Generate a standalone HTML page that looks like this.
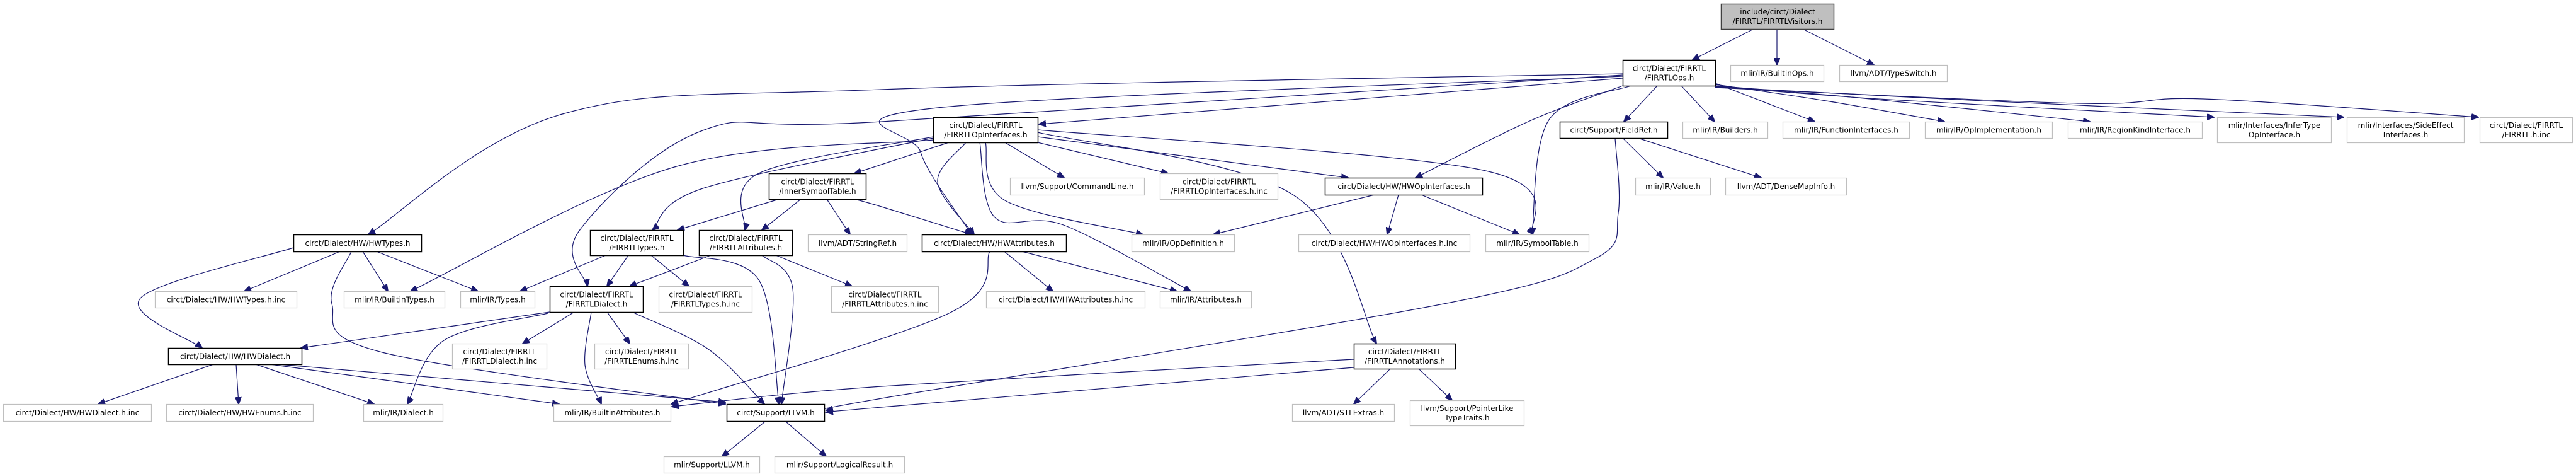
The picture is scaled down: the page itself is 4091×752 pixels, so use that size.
<!DOCTYPE html>
<html><head><meta charset="utf-8"><style>
html,body{margin:0;padding:0;background:#fff;}
svg{display:block;}
text{font-family:"DejaVu Sans","Liberation Sans",sans-serif;font-size:12px;fill:#000;}
</style></head><body>
<svg id="g" xmlns="http://www.w3.org/2000/svg" width="4091" height="752" viewBox="0 0 4091 752">
<defs><marker id="ah" markerWidth="12" markerHeight="10" refX="11" refY="5" orient="auto" markerUnits="userSpaceOnUse"><path d="M0,0 L12,5 L0,10 Z" fill="#191970" stroke="#191970"/></marker></defs>
<g id="edges"></g><g id="nodes"></g>
</svg>
<script>
const nodes=[
["root",2733,6,179,40,["include/circt/Dialect","/FIRRTL/FIRRTLVisitors.h"],"root"],
["ops",2577,95,147,41,["circt/Dialect/FIRRTL","/FIRRTLOps.h"],"b"],
["builtinops",2748,103,148,26,["mlir/IR/BuiltinOps.h"],"g"],
["typeswitch",2921,103,171,26,["llvm/ADT/TypeSwitch.h"],"g"],
["opif",1482,186,166,40,["circt/Dialect/FIRRTL","/FIRRTLOpInterfaces.h"],"b"],
["fieldref",2477,193,171,26,["circt/Support/FieldRef.h"],"b"],
["builders",2672,193,135,26,["mlir/IR/Builders.h"],"g"],
["funcif",2831,193,201,26,["mlir/IR/FunctionInterfaces.h"],"g"],
["opimpl",3057,193,202,26,["mlir/IR/OpImplementation.h"],"g"],
["regionkind",3284,193,213,26,["mlir/IR/RegionKindInterface.h"],"g"],
["infertype",3521,186,181,40,["mlir/Interfaces/InferType","OpInterface.h"],"g"],
["sideeffect",3727,186,186,40,["mlir/Interfaces/SideEffect","Interfaces.h"],"g"],
["firrtlinc",3938,186,147,40,["circt/Dialect/FIRRTL","/FIRRTL.h.inc"],"g"],
["innersym",1221,275,154,41,["circt/Dialect/FIRRTL","/InnerSymbolTable.h"],"b"],
["cmdline",1604,282,213,27,["llvm/Support/CommandLine.h"],"g"],
["opifinc",1842,275,187,41,["circt/Dialect/FIRRTL","/FIRRTLOpInterfaces.h.inc"],"g"],
["hwopif",2104,282,250,27,["circt/Dialect/HW/HWOpInterfaces.h"],"b"],
["value",2597,282,119,27,["mlir/IR/Value.h"],"g"],
["densemap",2740,282,192,27,["llvm/ADT/DenseMapInfo.h"],"g"],
["hwtypes",466,372,203,27,["circt/Dialect/HW/HWTypes.h"],"b"],
["firtypes",937,365,148,40,["circt/Dialect/FIRRTL","/FIRRTLTypes.h"],"b"],
["firattrs",1110,365,148,40,["circt/Dialect/FIRRTL","/FIRRTLAttributes.h"],"b"],
["stringref",1283,372,157,27,["llvm/ADT/StringRef.h"],"g"],
["hwattrs",1464,372,229,27,["circt/Dialect/HW/HWAttributes.h"],"b"],
["opdef",1797,372,163,27,["mlir/IR/OpDefinition.h"],"g"],
["hwopifinc",2062,372,272,27,["circt/Dialect/HW/HWOpInterfaces.h.inc"],"g"],
["symtab",2359,372,164,27,["mlir/IR/SymbolTable.h"],"g"],
["hwtypesinc",246,462,225,26,["circt/Dialect/HW/HWTypes.h.inc"],"g"],
["builtintypes",546,462,160,26,["mlir/IR/BuiltinTypes.h"],"g"],
["types",731,462,118,26,["mlir/IR/Types.h"],"g"],
["firdialect",873,454,148,41,["circt/Dialect/FIRRTL","/FIRRTLDialect.h"],"b"],
["firtypesinc",1046,454,148,41,["circt/Dialect/FIRRTL","/FIRRTLTypes.h.inc"],"g"],
["firattrsinc",1320,454,170,41,["circt/Dialect/FIRRTL","/FIRRTLAttributes.h.inc"],"g"],
["hwattrsinc",1566,462,252,26,["circt/Dialect/HW/HWAttributes.h.inc"],"g"],
["attrs",1842,462,145,26,["mlir/IR/Attributes.h"],"g"],
["hwdialect",267,552,212,26,["circt/Dialect/HW/HWDialect.h"],"b"],
["firdialectinc",718,545,150,40,["circt/Dialect/FIRRTL","/FIRRTLDialect.h.inc"],"g"],
["firenumsinc",944,545,149,40,["circt/Dialect/FIRRTL","/FIRRTLEnums.h.inc"],"g"],
["annot",2150,545,161,40,["circt/Dialect/FIRRTL","/FIRRTLAnnotations.h"],"b"],
["hwdialectinc",5,641,235,27,["circt/Dialect/HW/HWDialect.h.inc"],"g"],
["hwenumsinc",264,641,233,27,["circt/Dialect/HW/HWEnums.h.inc"],"g"],
["dialect",577,641,126,27,["mlir/IR/Dialect.h"],"g"],
["builtinattrs",879,641,186,27,["mlir/IR/BuiltinAttributes.h"],"g"],
["llvm",1154,641,155,27,["circt/Support/LLVM.h"],"b"],
["stlextras",2052,641,162,27,["llvm/ADT/STLExtras.h"],"g"],
["ptrlike",2239,635,181,40,["llvm/Support/PointerLike","TypeTraits.h"],"g"],
["mlirllvm",1054,724,152,26,["mlir/Support/LLVM.h"],"g"],
["logres",1230,724,206,26,["mlir/Support/LogicalResult.h"],"g"]
];
const edges=[
["root","ops",[2785,46,2688,95]],
["root","builtinops",[2822,46,2822,103]],
["root","typeswitch",[2863,46,2976,103]],
["ops","fieldref",[2632,136,2579,193]],
["ops","builders",[2670,136,2723,193]],
["ops","funcif",[2724,132,2882,193]],
["ops","opimpl",[2724,134,2900,160,3088,193]],
["ops","regionkind",[2724,136,2950,155,3319,193]],
["ops","infertype",[2724,137,3000,158,3516,186]],
["ops","sideeffect",[2724,138,3150,160,3722,186]],
["ops","firrtlinc",[2724,139,3300,164,3500,157,3936,186]],
["ops","hwopif",[2577,136,2427,193,2248,282]],
["ops","symtab",[2590,136,2460,190,2433,372]],
["ops","opif",[2577,124,1650,197]],
["ops","hwtypes",[2577,117,1400,142,893,181,585,372]],
["ops","firdialect",[2577,119,1400,193,1116,207,920,366,933,454]],
["ops","hwattrs",[2577,121,1489,171,1462,241,1543,372]],
["opif","cmdline",[1596,226,1690,282]],
["opif","opifinc",[1648,226,1855,275]],
["opif","hwopif",[1648,217,2141,282]],
["opif","symtab",[1648,206,2355,270,2435,372]],
["opif","annot",[1648,210,2052,308,2186,545]],
["opif","opdef",[1565,226,1596,318,1815,372]],
["opif","attrs",[1556,226,1580,345,1689,357,1891,462]],
["opif","hwattrs",[1534,226,1489,289,1547,372]],
["opif","innersym",[1507,226,1357,275]],
["opif","builtintypes",[1482,222,1071,265,652,462]],
["opif","firtypes",[1482,219,1116,299,1036,365]],
["opif","firattrs",[1482,217,1205,275,1183,365]],
["innersym","firtypes",[1237,316,1076,365]],
["innersym","firattrs",[1272,316,1210,365]],
["innersym","stringref",[1313,316,1350,372]],
["innersym","hwattrs",[1357,316,1400,328,1543,372]],
["hwtypes","hwdialect",[466,393,223,473,321,552]],
["hwtypes","hwtypesinc",[540,399,388,462]],
["hwtypes","builtintypes",[576,399,616,462]],
["hwtypes","types",[598,399,759,462]],
["hwtypes","llvm",[558,399,527,482,607,559,1152,641]],
["firtypes","types",[962,405,826,462]],
["firtypes","firdialect",[998,405,964,454]],
["firtypes","firtypesinc",[1034,405,1094,454]],
["firtypes","llvm",[1085,405,1205,444,1237,641]],
["firattrs","firdialect",[1129,405,1000,454]],
["firattrs","llvm",[1210,405,1259,458,1241,641]],
["firattrs","firattrsinc",[1232,405,1353,454]],
["firdialect","hwdialect",[873,495,478,552]],
["firdialect","dialect",[870,497,705,540,647,641]],
["firdialect","firdialectinc",[912,495,830,545]],
["firdialect","firenumsinc",[964,495,1000,545]],
["firdialect","builtinattrs",[939,495,929,579,955,641]],
["firdialect","llvm",[1004,495,1125,554,1214,641]],
["hwdialect","hwdialectinc",[339,578,156,641]],
["hwdialect","hwenumsinc",[375,578,379,641]],
["hwdialect","dialect",[406,578,594,641]],
["hwdialect","builtinattrs",[429,578,888,641]],
["hwdialect","llvm",[442,578,1152,638]],
["llvm","mlirllvm",[1216,668,1147,724]],
["llvm","logres",[1247,668,1312,724]],
["hwattrs","hwattrsinc",[1595,399,1672,462]],
["hwattrs","attrs",[1623,399,1869,462]],
["hwattrs","builtinattrs",[1572,399,1507,497,1066,641]],
["hwopif","opdef",[2183,309,1927,372]],
["hwopif","hwopifinc",[2221,309,2203,372]],
["hwopif","symtab",[2257,309,2413,372]],
["fieldref","value",[2577,219,2641,282]],
["fieldref","densemap",[2601,219,2797,282]],
["fieldref","llvm",[2565,219,2570,338,2534,410,2293,482,1400,632,1312,651]],
["annot","builtinattrs",[2150,570,1400,613,1067,645]],
["annot","llvm",[2150,583,1400,646,1312,654]],
["annot","stlextras",[2208,585,2150,641]],
["annot","ptrlike",[2253,585,2306,635]]
];
const NS="http://www.w3.org/2000/svg";
const eg=document.getElementById('edges'), ng=document.getElementById('nodes');
function pathD(p){
  const pts=[];for(let i=0;i<p.length;i+=2)pts.push([p[i],p[i+1]]);
  if(pts.length==2)return `M${pts[0][0]},${pts[0][1]} L${pts[1][0]},${pts[1][1]}`;
  let d=`M${pts[0][0]},${pts[0][1]}`;
  for(let i=0;i<pts.length-1;i++){
    const p0=pts[Math.max(0,i-1)],p1=pts[i],p2=pts[i+1],p3=pts[Math.min(pts.length-1,i+2)];
    const c1=[p1[0]+(p2[0]-p0[0])/6,p1[1]+(p2[1]-p0[1])/6];
    const c2=[p2[0]-(p3[0]-p1[0])/6,p2[1]-(p3[1]-p1[1])/6];
    d+=` C${c1[0]},${c1[1]} ${c2[0]},${c2[1]} ${p2[0]},${p2[1]}`;
  }
  return d;
}
for(const e of edges){
  const el=document.createElementNS(NS,'path');
  el.setAttribute('d',pathD(e[2]));
  el.setAttribute('fill','none');el.setAttribute('stroke','#191970');el.setAttribute('stroke-width','1.2');
  el.setAttribute('marker-end','url(#ah)');
  
  
  eg.appendChild(el);
}
for(const n of nodes){
  const [id,x,y,w,h,lines,st]=n;
  const g=document.createElementNS(NS,'g');
  
  
  const r=document.createElementNS(NS,'rect');
  r.setAttribute('x',x+0.5);r.setAttribute('y',y+0.5);r.setAttribute('width',w);r.setAttribute('height',h);
  r.setAttribute('fill',st=='root'?'#bfbfbf':'#fff');
  r.setAttribute('stroke',st=='g'?'#bfbfbf':(st=='root'?'#404040':'#000'));
  r.setAttribute('stroke-width',st=='g'?'1.2':'1.5');
  g.appendChild(r);
  const n1=lines.length;
  lines.forEach((t,i)=>{
    const tx=document.createElementNS(NS,'text');
    tx.setAttribute('x',x+w/2+0.5);
    const cy=n1==1?y+h/2+4.5:y+h/2-7.5+15*i+4.5;
    tx.setAttribute('y',cy);
    tx.setAttribute('text-anchor','middle');
    tx.textContent=t;
    g.appendChild(tx);
    ng.appendChild(g);
    const L=tx.getComputedTextLength();
    if(L>w-14){tx.setAttribute('textLength',w-14);tx.setAttribute('lengthAdjust','spacingAndGlyphs');}
  });
  ng.appendChild(g);
}
</script>
</body></html>
